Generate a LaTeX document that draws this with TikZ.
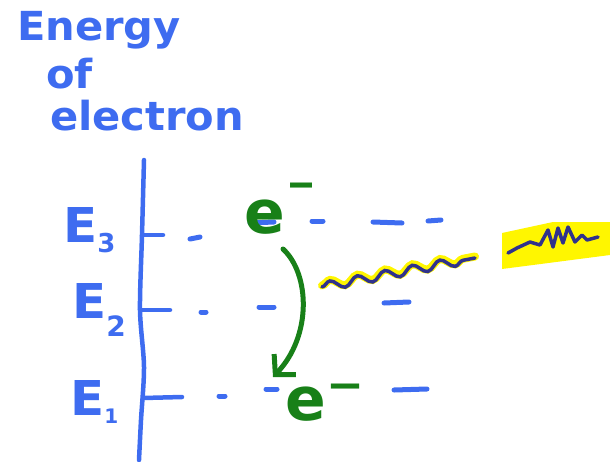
\documentclass[tikz,border=0pt]{standalone}
\usepackage{fontspec}
\setmainfont{DejaVu Sans}
\usetikzlibrary{arrows.meta,decorations.pathmorphing}
\definecolor{penblue}{RGB}{62,108,240}
\definecolor{pengreen}{RGB}{24,128,24}
\definecolor{pennavy}{RGB}{48,50,140}
\definecolor{marker}{RGB}{255,246,0}
\newcommand{\hand}[2]{\fontsize{#1}{#1}\selectfont\bfseries\scalebox{1.04}[1]{#2}}

\begin{document}
\begin{tikzpicture}[x=1pt,y=-1pt,
  every node/.style={inner sep=0pt},
  pen/.style={penblue,line width=4.5pt,line cap=round,line join=round},
  lvl/.style={penblue,line width=5pt,line cap=round},
  ink/.style={pengreen,line width=5pt,line cap=round,line join=round},
  elec/.style={anchor=base west,text=pengreen,font=\bfseries}]
  \useasboundingbox (0,0) rectangle (610,461);

  % heading
  \node[anchor=base west,text=penblue] (energy) at (17,40) {\hand{40}{Energy}};
  \node[anchor=base west,text=penblue] (of) at (46,88) {\hand{40}{of}};
  \node[anchor=base west,text=penblue] (electron) at (50,130) {\hand{40}{electron}};

  % energy axis and levels
  \draw[pen] plot[smooth] coordinates {(144,160) (142,235) (140,310) (144,367) (141,420) (139,460)};
  \draw[pen] (142,235) -- (163,235);
  \draw[pen] (140,310) -- (170,310);
  \draw[pen] (143,398) -- (182,397);

  \node[anchor=base west,text=penblue] (E3) at (63,242)
    {\hand{48}{E}\raisebox{-10pt}{\fontsize{26}{26}\selectfont\bfseries 3}};
  \node[anchor=base west,text=penblue] (E2) at (72,318)
    {\hand{48}{E}\raisebox{-18pt}{\fontsize{28}{28}\selectfont\bfseries 2}};
  \node[anchor=base west,text=penblue] (E1) at (70,415)
    {\hand{48}{E}\raisebox{-8pt}{\fontsize{20}{20}\selectfont\bfseries 1}};

  \foreach \xa/\ya/\xb/\yb in {190/239/200/237, 250/223/274/222, 312/221/323/221,
      373/222/402/223, 428/221/441/220,
      201/312/206/312, 259/307/274/307, 384/303/409/302,
      219/396/225/396, 266/389/277/389, 394/390/427/389}
    \draw[lvl] (\xa,\ya) -- (\xb,\yb);

  % electrons
  \node[elec] (ehigh) at (244,233) {\fontsize{60}{60}\selectfont e\kern3pt\raisebox{37pt}{\fontsize{40}{40}\selectfont\scalebox{1.4}[1]{–}}};
  \node[elec] (elow) at (285,420) {\fontsize{60}{60}\selectfont e\kern2pt\raisebox{23pt}{\fontsize{40}{40}\selectfont\scalebox{1.8}[1]{–}}};
  \draw[ink,-{Straight Barb[length=14pt,width=30pt]}]
    ([shift={(39,16)}]ehigh.base west) .. controls +(27,25) and +(39,-41) .. ([shift={(-12,-43)}]elow.base west);

  % photon
  \coordinate (wavein) at (322,287);
  \coordinate (waveout) at (475,258);
  \draw[marker,line width=8pt,line cap=round,decorate,decoration={snake,amplitude=4pt,segment length=28pt}]
    ([yshift=1.5pt]wavein) -- ([yshift=1.5pt]waveout);
  \draw[pennavy,line width=3.5pt,line cap=round,decorate,decoration={snake,amplitude=4.5pt,segment length=28pt}]
    (wavein) -- (waveout);

  % highlighted photon
  \fill[marker] (502,233) -- (553,222) -- (610,222) -- (610,255) -- (533,265) -- (502,269) -- cycle;
  \draw[pennavy,line width=3.5pt,line cap=round,line join=round]
    (508,253) -- (517,248) -- (530,242) -- (540,245) -- (548,230) -- (553,247) -- (558,228)
    -- (563,243) -- (568,227) -- (575,242) -- (582,235) -- (587,240) -- (598,237);
\end{tikzpicture}
\end{document}
